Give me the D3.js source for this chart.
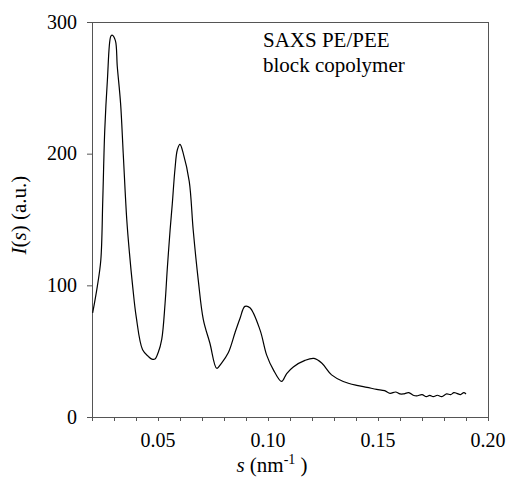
<!DOCTYPE html>
<html>
<head>
<meta charset="utf-8">
<script src="https://cdn.jsdelivr.net/npm/d3@7"></script>
<style>
  body { margin: 0; background: #fff; }
  svg, svg g, svg text, svg tspan { font-family: 'Times New Roman', 'Liberation Serif', Tinos, Times !important; }
</style>
</head>
<body>
<svg id="saxs_svg" width="507" height="479" font-family="'Times New Roman'"></svg>
<script>
// scattering vector s (nm^-1)
const sValues = [0.0203, 0.0224, 0.0240, 0.0249, 0.0258, 0.0270, 0.0285, 0.0291, 0.0306, 0.0315,
  0.0330, 0.0342, 0.0358, 0.0370, 0.0385, 0.0401, 0.0430, 0.0456, 0.0472, 0.0486,
  0.0501, 0.0517, 0.0532, 0.0542, 0.0555, 0.0565, 0.0577, 0.0588, 0.0600, 0.0615,
  0.0642, 0.0660, 0.0683, 0.0706, 0.0736, 0.0767, 0.0789, 0.0820, 0.0850, 0.0873,
  0.0895, 0.0918, 0.0964, 0.0994, 0.1024, 0.1062, 0.1085, 0.1115, 0.1168, 0.1209,
  0.1244, 0.1289, 0.1342, 0.1403, 0.1450, 0.1494, 0.1530, 0.1555, 0.1580, 0.1600,
  0.1615, 0.1640, 0.1660, 0.1676, 0.1700, 0.1720, 0.1735, 0.1751, 0.1770, 0.1790,
  0.1812, 0.1830, 0.1845, 0.1858, 0.1875, 0.1890, 0.1900];
// intensity I(s) (a.u.)
const iValues = [79, 99, 119, 165, 218, 256, 289, 290, 286, 266,
  238, 200, 150, 125, 99, 76, 51, 46, 44, 44,
  49, 59, 86, 112, 142, 162, 188, 203, 207, 200,
  179, 142, 104, 74, 56, 37, 41, 49, 64, 75,
  84, 83, 66, 47, 36, 27, 33, 38, 43, 44.5,
  41, 32, 27, 24, 22.5, 21, 20, 18, 19, 17.5,
  17.5, 18.5, 16.5, 16, 17, 15.5, 16.5, 15.4, 16.5, 15.5,
  17.5, 17, 18.5, 18, 17, 18.5, 17.5];
const xMinorTicks = [0.02, 0.03, 0.04, 0.05, 0.06, 0.07, 0.08, 0.09, 0.10, 0.11,
  0.12, 0.13, 0.14, 0.15, 0.16, 0.17, 0.18, 0.19, 0.20];
const xTicks = [0.05, 0.10, 0.15, 0.20];
const yTicks = [0, 100, 200, 300];
const noteLines = ['SAXS PE/PEE', 'block copolymer'];

const FONT = "'Times New Roman'";

const svg = d3.select('#saxs_svg');
const margin = { top: 22, left: 92, right: 19, bottom: 62 };
const innerWidth = 507 - margin.left - margin.right;
const innerHeight = 479 - margin.top - margin.bottom;
const axisColor = '#555';

// scales in page pixels, texts sit straight on the svg
const xScale = d3.scaleLinear().domain([0.02, 0.20]).range([margin.left, margin.left + innerWidth]);
const yScale = d3.scaleLinear().domain([0, 300]).range([margin.top + innerHeight, margin.top]);
const bottom = margin.top + innerHeight;
const right = margin.left + innerWidth;

// frame: top and right lines
svg.append('line').attr('x1', margin.left).attr('x2', right).attr('y1', margin.top + 0.5).attr('y2', margin.top + 0.5)
  .attr('stroke', axisColor).attr('stroke-width', 1);
svg.append('line').attr('x1', right + 0.5).attr('x2', right + 0.5).attr('y1', margin.top).attr('y2', bottom + 4)
  .attr('stroke', axisColor).attr('stroke-width', 1);

// x axis ticks every 0.01
const xg = svg.append('g').attr('transform', `translate(0,${bottom})`)
  .call(d3.axisBottom(xScale).tickValues(xMinorTicks).tickSize(4).tickFormat(''));
xg.attr('font-family', FONT);
xg.select('.domain').attr('stroke', axisColor).attr('d', `M${margin.left + 0.5},0.5H${right}`);
xg.selectAll('.tick line').attr('stroke', axisColor);
xg.selectAll('.tick text').remove();

// y axis ticks
const yg = svg.append('g').attr('transform', `translate(${margin.left},0)`)
  .call(d3.axisLeft(yScale).tickValues(yTicks).tickSize(5).tickFormat(''));
yg.attr('font-family', FONT);
yg.select('.domain').attr('stroke', axisColor).attr('d', `M0.5,${margin.top}V${bottom + 4}`);
yg.selectAll('.tick line').attr('stroke', axisColor);
yg.selectAll('.tick text').remove();

// tick labels
svg.selectAll('.xlabel').data(xTicks).enter().append('text')
  .attr('class', 'xlabel')
  .attr('x', d => xScale(d)).attr('y', bottom + 30)
  .attr('text-anchor', 'middle')
  .attr('font-family', FONT).attr('font-size', 20).attr('fill', '#000')
  .text(d => d3.format('.2f')(d));
svg.selectAll('.ylabel').data(yTicks).enter().append('text')
  .attr('class', 'ylabel')
  .attr('x', margin.left - 15).attr('y', d => yScale(d) + 6.5)
  .attr('text-anchor', 'end')
  .attr('font-family', FONT).attr('font-size', 20).attr('fill', '#000')
  .text(d => d3.format('d')(d));

// curve
const pts = sValues.map((s, i) => [s, iValues[i]]);
const line = d3.line()
  .x(d => xScale(d[0]))
  .y(d => yScale(d[1]))
  .curve(d3.curveCatmullRom.alpha(0.5));
svg.append('path')
  .datum(pts)
  .attr('fill', 'none')
  .attr('stroke', '#000')
  .attr('stroke-width', 1.2)
  .attr('d', line);

// annotation
svg.selectAll('.note').data(noteLines).enter().append('text')
  .attr('class', 'note')
  .attr('x', margin.left + 171).attr('y', (d, i) => margin.top + 25 + i * 25)
  .attr('font-family', FONT).attr('font-size', 21).attr('fill', '#000')
  .text(d => d);

// axis titles built from separate pieces (italic / superscript)
function runText(parts, x, y, rotate) {
  const nodes = parts.map(p => svg.append('text')
    .attr('font-family', FONT).attr('font-size', p.size)
    .attr('font-style', p.italic ? 'italic' : 'normal')
    .attr('fill', '#000').text(p.t));
  const widths = nodes.map(n => n.node().getComputedTextLength());
  let off = -d3.sum(widths) / 2;
  nodes.forEach((n, i) => {
    const dy = parts[i].dy || 0;
    if (!rotate) {
      n.attr('x', x + off).attr('y', y + dy);
    } else {
      const px = x + dy, py = y - off;
      n.attr('x', px).attr('y', py).attr('transform', `rotate(-90,${px},${py})`);
    }
    off += widths[i];
  });
}

runText([
  { t: 's', italic: true, size: 21 },
  { t: '\u00a0(nm', size: 21 },
  { t: '-1', size: 14, dy: -8 },
  { t: '\u00a0)', size: 21 }
], 272, 472, false);

runText([
  { t: 'I', italic: true, size: 21 },
  { t: '(', size: 21 },
  { t: 's', italic: true, size: 21 },
  { t: ')\u00a0(a.u.)', size: 21 }
], 26, 215, true);
</script>
</body>
</html>
